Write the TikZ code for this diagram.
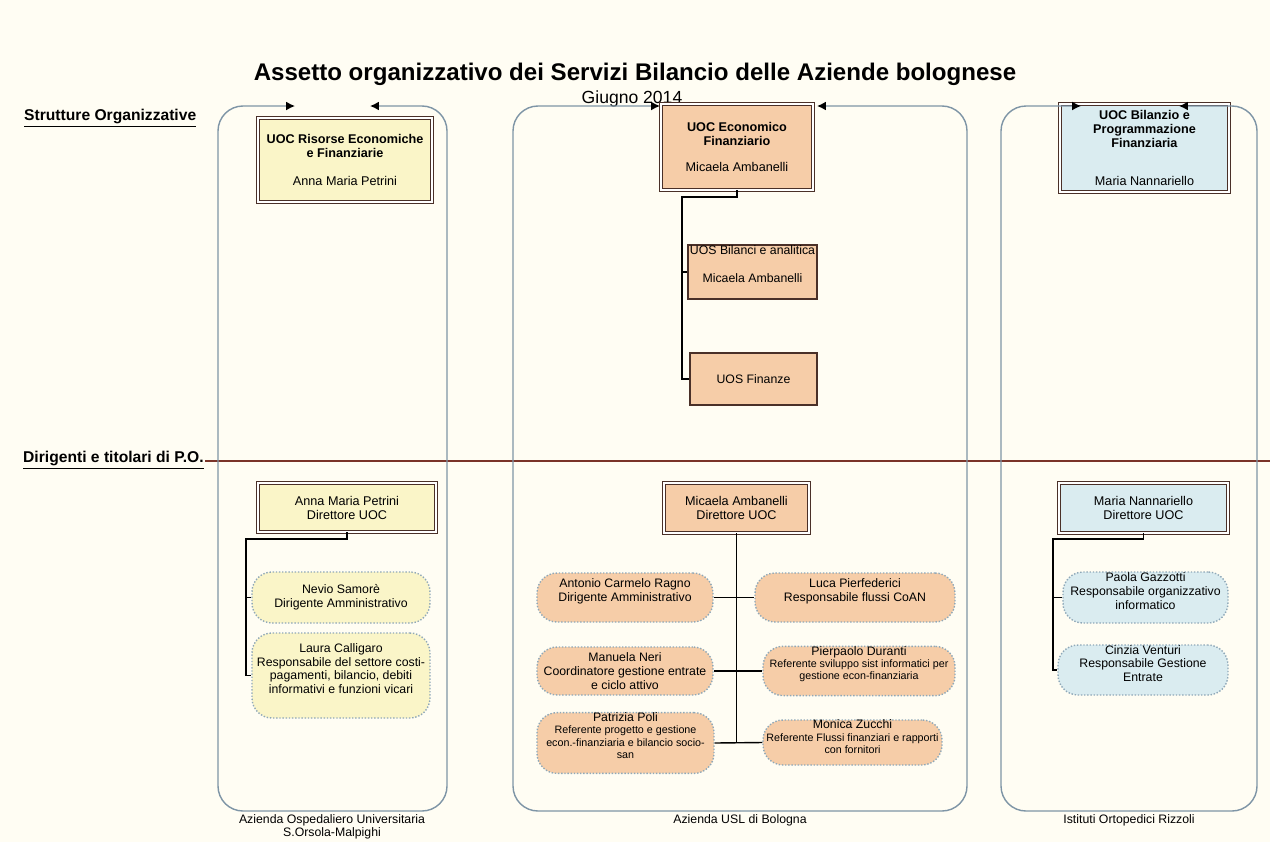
\documentclass[tikz,border=0pt]{standalone}
\usepackage{fontspec}
\setmainfont{Liberation Sans}
\usetikzlibrary{arrows.meta,positioning}

\definecolor{bgcream}{HTML}{FFFDF3}
\definecolor{framegray}{HTML}{7E95A6}
\definecolor{rulered}{HTML}{7A3328}
\definecolor{aoyellow}{HTML}{FAF5C8}
\definecolor{uslpeach}{HTML}{F6CDA8}
\definecolor{iorblue}{HTML}{DAECF0}
\definecolor{boxline}{HTML}{4A3028}
\definecolor{dotline}{HTML}{8FA8B8}

\newcommand{\smtxt}{\fontsize{6.1}{7}\selectfont}

\begin{document}
\begin{tikzpicture}[x=0.02cm,y=-0.02cm]
  \tikzstyle{frame}=[draw=framegray,line width=0.8pt,rounded corners=0.5cm,-{Latex[length=5pt,width=5pt,color=black]}]
  \tikzstyle{uoc}=[draw=boxline,double=white,double distance=0.9pt,line width=0.5pt,inner sep=0pt,align=center,font=\fontsize{7.2}{8}\selectfont]
  \tikzstyle{uos}=[draw=boxline,line width=0.7pt,fill=uslpeach,inner sep=0pt,align=center,font=\fontsize{7}{7.9}\selectfont]
  \tikzstyle{po}=[draw=dotline,densely dotted,line width=0.8pt,rounded corners=0.4cm,inner sep=0pt,align=center,font=\fontsize{7}{7.9}\selectfont]
  \tikzstyle{link}=[draw=black,line width=0.8pt]
  \tikzstyle{header}=[anchor=west,font=\fontsize{8.9}{10}\selectfont\bfseries]
  \tikzstyle{company}=[align=center,font=\fontsize{7}{7.4}\selectfont]

  \fill[bgcream] (0,0) rectangle (1270,842);
  \useasboundingbox (0,0) rectangle (1270,842);

  \node (title) at (635,74) {\fontsize{13.7}{16}\selectfont\bfseries Assetto organizzativo dei Servizi Bilancio delle Aziende bolognese};
  \node (date) at (632,99) {\fontsize{10}{12}\selectfont Giugno 2014};

  \node[header] (hdrA) at (18,118) {\underline{Strutture Organizzative}};
  \node[header] (hdrB) at (17,460) {\underline{Dirigenti e titolari di P.O.}};
  \draw[rulered,line width=0.8pt] (205,461) -- (1270,461);

  \node[uoc,fill=aoyellow,minimum width=3.48cm,minimum height=1.68cm] (uocA) at (345,160)
    {\textbf{UOC Risorse Economiche}\\\textbf{e Finanziarie}\\[8pt]Anna Maria Petrini};
  \node[uoc,fill=uslpeach,minimum width=3.04cm,minimum height=1.72cm] (uocB) at (737,147)
    {\textbf{UOC Economico}\\\textbf{Finanziario}\\[7pt]Micaela Ambanelli};
  \node[uoc,fill=iorblue,minimum width=3.38cm,minimum height=1.76cm] (uocC) at (1144.5,148)
    {\textbf{UOC Bilanzio e}\\\textbf{Programmazione}\\\textbf{Finanziaria}\\[14pt]Maria Nannariello};

  \node[uos,minimum width=2.58cm,minimum height=1.08cm,text depth=9.5pt] (uosA) at (752.5,272)
    {UOS Bilanci e analitica\\[8pt]Micaela Ambanelli};
  \node[uos,minimum width=2.54cm,minimum height=1.04cm] (uosB) at (753.5,379) {UOS Finanze};

  \node[uoc,fill=aoyellow,minimum width=3.56cm,minimum height=0.98cm] (dirA) at (347,507.5)
    {Anna Maria Petrini\\Direttore UOC};
  \node[uoc,fill=uslpeach,minimum width=2.90cm,minimum height=1.00cm] (dirB) at (736.5,508)
    {Micaela Ambanelli\\Direttore UOC};
  \node[uoc,fill=iorblue,minimum width=3.38cm,minimum height=1.00cm] (dirC) at (1143.5,508)
    {Maria Nannariello\\Direttore UOC};

  \node[po,fill=aoyellow,minimum width=3.56cm,minimum height=1.02cm] (nevio) at (341,597.5)
    {Nevio Samorè\\Dirigente Amministrativo};
  \node[po,fill=aoyellow,minimum width=3.56cm,minimum height=1.70cm,text depth=8pt] (laura) at (341,675.5)
    {Laura Calligaro\\Responsabile del settore costi-\\pagamenti, bilancio, debiti\\informativi e funzioni vicari};

  \node[po,fill=uslpeach,minimum width=3.52cm,minimum height=0.98cm,text depth=9pt] (antonio) at (625,597.5)
    {Antonio Carmelo Ragno\\Dirigente Amministrativo};
  \node[po,fill=uslpeach,minimum width=4.00cm,minimum height=0.98cm,text depth=9pt] (luca) at (855,597.5)
    {Luca Pierfederici\\Responsabile flussi CoAN};
  \node[po,fill=uslpeach,minimum width=3.52cm,minimum height=0.96cm] (manuela) at (625,671)
    {Manuela Neri\\Coordinatore gestione entrate\\e ciclo attivo};
  \node[po,fill=uslpeach,minimum width=3.84cm,minimum height=0.96cm,text depth=9pt,font=\smtxt] (pierpaolo) at (859,671)
    {{\fontsize{7}{7.4}\selectfont Pierpaolo Duranti}\\Referente sviluppo sist informatici per\\gestione econ-finanziaria};
  \node[po,fill=uslpeach,minimum width=3.54cm,minimum height=1.00cm,text depth=8.5pt,font=\smtxt] (patrizia) at (625.5,743)
    {{\fontsize{7}{7}\selectfont Patrizia Poli}\\Referente progetto e gestione\\econ.-finanziaria e bilancio socio-\\san};
  \node[po,fill=uslpeach,minimum width=3.58cm,minimum height=0.90cm,text depth=6.5pt,font=\smtxt] (monica) at (852.5,742.5)
    {{\fontsize{7}{7}\selectfont Monica Zucchi}\\Referente Flussi finanziari e rapporti\\con fornitori};

  \node[po,fill=iorblue,minimum width=3.30cm,minimum height=1.02cm,text depth=7.5pt] (paola) at (1145.5,597.5)
    {Paola Gazzotti\\Responsabile organizzativo\\informatico};
  \node[po,fill=iorblue,minimum width=3.40cm,minimum height=1.00cm,text depth=7.5pt] (cinzia) at (1143,670)
    {Cinzia Venturi\\Responsabile Gestione\\Entrate};

  \coordinate (jB) at (682,197);
  \draw[link] (uocB.south) |- (jB) |- (uosB.west);
  \draw[link] (jB |- uosA.west) -- (uosA.west);

  \coordinate (jA) at (246,539);
  \draw[link] (dirA.south) |- (jA) |- (laura.west);
  \draw[link] (jA |- nevio.west) -- (nevio.west);

  \draw[link] (dirB.south) -- (dirB.south |- patrizia.east);
  \draw[link] (antonio.east) -- (luca.west);
  \draw[link] (manuela.east) -- (pierpaolo.west);
  \draw[link] (patrizia.east) -- (monica.west);

  \coordinate (jC) at (1053,539);
  \draw[link] (dirC.south) |- (jC) |- (cinzia.west);
  \draw[link] (jC |- paola.west) -- (paola.west);

  \draw[frame] (332,811) -| (218,106) -- (295,106);
  \draw[frame] (332,811) -| (447,106) -- (370,106);
  \draw[frame] (740,811) -| (513,106) -- (660,106);
  \draw[frame] (740,811) -| (967,106) -- (817,106);
  \draw[frame] (1129,811) -| (1001,106) -- (1081,106);
  \draw[frame] (1129,811) -| (1257,106) -- (1179,106);

  \node[company] (lblA) at (332,826.5) {Azienda Ospedaliero Universitaria\\S.Orsola-Malpighi};
  \node[company] (lblB) at (740,820) {Azienda USL di Bologna};
  \node[company] (lblC) at (1129,820) {Istituti Ortopedici Rizzoli};
\end{tikzpicture}
\end{document}
